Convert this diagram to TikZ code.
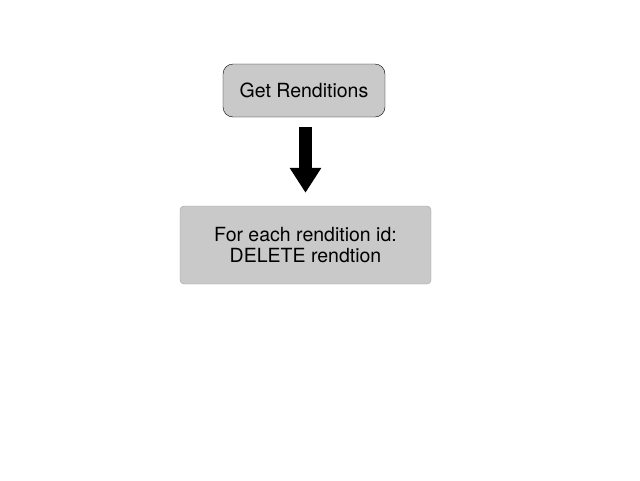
\documentclass[tikz,border=0pt]{standalone}
\usepackage{fontspec}
\setmainfont{TeX Gyre Heros}
\usetikzlibrary{positioning}
\usetikzlibrary{arrows.meta}
\definecolor{boxgray}{HTML}{C9C9C9}
\begin{document}
\begin{tikzpicture}[x=1pt,y=-1pt,font=\fontsize{19.5}{21}\selectfont]
		\useasboundingbox (0,0) rectangle (640,480);
		\node[fill = boxgray, draw,rectangle,rounded corners = 10pt,minimum width = 162pt,minimum height = 53pt,inner sep = 0pt] at (304,90.5) (getr) {Get Renditions};
		\node[fill = boxgray, draw = boxgray!80!black,rectangle,rounded corners = 4pt,minimum width = 251pt,minimum height = 78pt,inner sep = 0pt,align = center] at (305.5,245) (delr) {For each rendition id:\\DELETE rendtion};
		\draw[line width = 13pt,-{Triangle[width = 30pt,length = 25pt]},shorten < = 10pt,shorten > = 13pt] (getr.south -| delr.north) -- (delr.north);
	\end{tikzpicture}
\end{document}
